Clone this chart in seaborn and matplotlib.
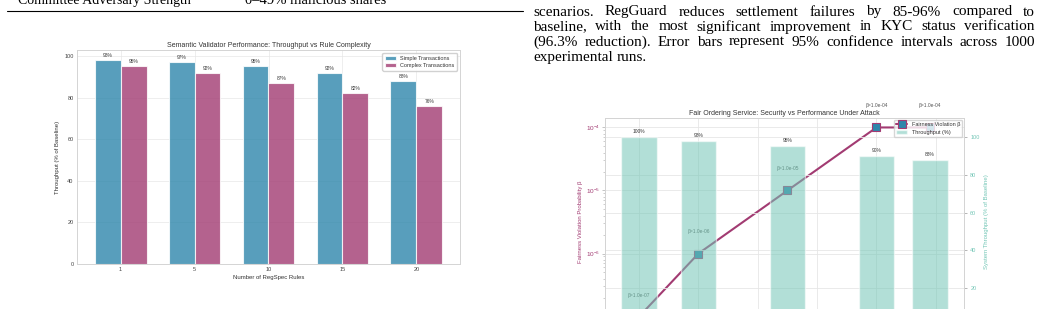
import numpy as np
import pandas as pd
import matplotlib
matplotlib.use("Agg")
import matplotlib.pyplot as plt
from matplotlib.lines import Line2D
import seaborn as sns

# data
rule_counts = [1, 5, 10, 15, 20]
simple_tp = [98, 97, 95, 92, 88]
complex_tp = [95, 92, 87, 82, 76]

adv_shares = [0, 10, 25, 40, 49]
fairness_beta = [1e-7, 1e-6, 1e-5, 1e-4, 1e-4]
fos_tp = [100, 98, 95, 90, 88]

caption_lines = [
    "scenarios. RegGuard reduces settlement failures by 85-96% compared to",
    "baseline, with the most significant improvement in KYC status verification",
    "(96.3% reduction). Error bars represent 95% confidence intervals across 1000",
    "experimental runs.",
]

BLUE, PINK, MINT = "#2E86AB", "#A23B72", "#73C6B6"

sns.set_theme(style="whitegrid")
plt.rcParams["font.family"] = ["Liberation Sans", "DejaVu Sans"]
plt.rcParams.update({
    "axes.edgecolor": "#d4d4d4",
    "axes.linewidth": 0.7,
    "grid.color": "#e6e6e6",
    "grid.linewidth": 0.6,
    "text.color": "#333333",
    "axes.labelcolor": "#333333",
    "xtick.color": "#444444",
    "ytick.color": "#444444",
})

W, H = 1041, 309
fig = plt.figure(figsize=(W / 100, H / 100), dpi=100)


def box(x0, x1, top, bottom):
    return [x0 / W, 1 - bottom / H, (x1 - x0) / W, (bottom - top) / H]


# ---- page text around the figures
serif = ["Liberation Serif", "DejaVu Serif"]
fig.text(18 / W, 1 - 4 / H, "Committee Adversary Strength", family=serif,
         fontsize=10, va="baseline", color="black")
fig.text(245 / W, 1 - 4 / H, "0\u201349% malicious shares", family=serif,
         fontsize=10.5, va="baseline", color="black")
fig.add_artist(Line2D([7 / W, 523 / W], [1 - 11 / H] * 2, color="black", lw=0.8))

renderer = fig.canvas.get_renderer()
x_left, x_right = 533, 1035
for i, line in enumerate(caption_lines):
    y = 1 - (15.5 + 15 * i) / H
    words = line.split(" ")
    texts = [fig.text(0, y, w, family=serif, fontsize=11, va="baseline", color="black")
             for w in words]
    widths = [t.get_window_extent(renderer).width for t in texts]
    if i < len(caption_lines) - 1:
        gap = (x_right - x_left - sum(widths)) / (len(words) - 1)
    else:
        gap = 4
    x = x_left
    for t, w in zip(texts, widths):
        t.set_x(x / W)
        x += w + gap

# ---- left chart
ax = fig.add_axes(box(77, 460, 50, 264))
df = pd.DataFrame({
    "rules": rule_counts * 2,
    "tp": simple_tp + complex_tp,
    "kind": ["Simple Transactions"] * len(rule_counts) + ["Complex Transactions"] * len(rule_counts),
})
sns.barplot(data=df, x="rules", y="tp", hue="kind", palette=[BLUE, PINK], saturation=1,
            alpha=0.8, width=0.7, edgecolor="white", linewidth=0.8, errorbar=None, ax=ax)
ax.set_xlim(-0.59, 4.59)
for c in ax.containers:
    ax.bar_label(c, fmt="%d%%", padding=1.5, fontsize=3.5, color="#333333")
ax.set_title("Semantic Validator Performance: Throughput vs Rule Complexity", fontsize=5, pad=2.5)
ax.set_xlabel("Number of RegSpec Rules", fontsize=4.3, labelpad=1.5)
ax.set_ylabel("Throughput (% of Baseline)", fontsize=4.3, labelpad=3)
ax.tick_params(labelsize=4, pad=2.5, length=0)
ax.grid(True, alpha=0.8)
sns.move_legend(ax, "upper right", title=None, fontsize=4, frameon=True, framealpha=0.9,
                borderaxespad=0.6)

# ---- right chart
ax1 = fig.add_axes(box(605, 964, 118, 326))
ax2 = ax1.twinx()
ax2.patch.set_visible(False)
sns.lineplot(x=adv_shares, y=fairness_beta, ax=ax1, color=PINK, linewidth=1.5, marker="s",
             markersize=5.5, markerfacecolor=BLUE, markeredgecolor=PINK, markeredgewidth=0.8,
             label="Fairness Violation \u03b2")
ax1.set_yscale("log")
if ax1.get_legend():
    ax1.get_legend().remove()
for xv, b in zip(adv_shares, fairness_beta):
    ax1.annotate(f"\u03b2={b:.1e}", (xv, b), xytext=(0, 15.5), textcoords="offset points",
                 ha="center", va="center", fontsize=3.5, color="#555555")

bars = ax2.bar(adv_shares, fos_tp, width=6, color=MINT, alpha=0.55, label="Throughput (%)")
ax2.bar_label(bars, fmt="%d%%", padding=2.2, fontsize=3.5, color="#333333")
ax2.set_ylim(0, 110)

ax1.set_title("Fair Ordering Service: Security vs Performance Under Attack", fontsize=5, pad=2.5)
ax1.set_xlabel("")
ax1.set_ylabel("Fairness Violation Probability \u03b2", fontsize=4.3, color=PINK, labelpad=2.5)
ax2.set_ylabel("System Throughput (% of Baseline)", fontsize=4.3, color=MINT, labelpad=3)
ax1.tick_params(axis="x", labelbottom=False, length=0)
ax1.tick_params(axis="y", which="major", labelsize=4.6, labelcolor=PINK, left=True,
                length=2, width=0.6, color="#bbbbbb", pad=1.5)
ax1.tick_params(axis="y", which="minor", left=True, length=1.3, width=0.5, color="#bbbbbb")
ax2.tick_params(axis="y", labelsize=4, labelcolor=MINT, right=True, length=2.5, width=0.6,
                color="#aaaaaa", pad=2)
ax2.grid(True, axis="y")
ax2.grid(False, axis="x")

h1, l1 = ax1.get_legend_handles_labels()
h2, l2 = ax2.get_legend_handles_labels()
ax2.legend(h1 + h2, l1 + l2, loc="upper right", fontsize=4, frameon=True, framealpha=0.8,
           borderaxespad=0.3)

fig.savefig("out.png", dpi=100)
